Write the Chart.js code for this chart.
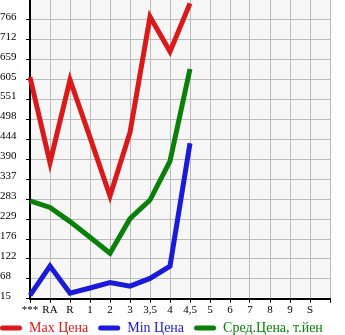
<!DOCTYPE html>
<html>
<head>
<meta charset="utf-8">
<script src="https://cdn.jsdelivr.net/npm/chart.js@4"></script>
<style>
html,body{margin:0;padding:0;background:#fff;}
#wrap{width:345px;height:335px;position:relative;}
</style>
</head>
<body>
<div id="wrap"><canvas id="c" width="345" height="335"></canvas></div>
<script>
const categories = ['***', 'RA', 'R', '1', '2', '3', '3,5', '4', '4,5', '5', '6', '7', '8', '9', 'S'];
const maxPrice = [612, 382, 605, 450, 292, 463, 775, 681, 811];
const minPrice = [24, 103, 30, 44, 59, 49, 70, 103, 434];
const avgPrice = [279, 261, 223, 181, 138, 231, 281, 386, 634];
const yTickLabels = ['15', '68', '122', '176', '229', '283', '337', '390', '444', '498', '551', '605', '659', '712', '766'];
const yMin = 15, yMax = 820;
const seriesNames = ['Max Цена', 'Min Цена', 'Сред.Цена, т.йен'];
const seriesColors = ['#da1a1a', '#1a1ad8', '#0a800a'];

const FONT = '"Liberation Serif", "Times New Roman", serif';
const step = (yMax - yMin) / yTickLabels.length;

const plotBg = {
  id: 'plotBg',
  beforeLayout(chart) {
    const lg = chart.legend;
    if (lg && !lg._patched) {
      const orig = lg.fit;
      lg.fit = function () { orig.call(this); this.height = 17; };
      lg._patched = true;
    }
  },
  beforeDraw(chart) {
    const a = chart.chartArea, ctx = chart.ctx;
    ctx.save();
    ctx.fillStyle = '#f6f6f6';
    ctx.fillRect(a.left, a.top, a.right - a.left, a.bottom - a.top);
    ctx.restore();
    if (chart.legend) { chart.legend.left = -10; chart.legend.top = 311; }
  }
};

new Chart(document.getElementById('c'), {
  type: 'line',
  data: {
    labels: [...categories, ''],
    datasets: [maxPrice, minPrice, avgPrice].map((d, i) => ({
      label: seriesNames[i],
      data: d,
      borderColor: seriesColors[i],
      backgroundColor: seriesColors[i],
      borderWidth: 5,
      pointRadius: 0,
      tension: 0,
      fill: false
    }))
  },
  options: {
    responsive: false,
    animation: false,
    layout: { padding: 0 },
    scales: {
      x: {
        offset: false,
        afterFit(scale) {
          scale.paddingRight = 15;
          scale.paddingLeft = 0;
        },
        grid: { color: '#bbbbbb', lineWidth: 1, tickColor: '#000', tickLength: 4, drawOnChartArea: true },
        border: { color: '#000', width: 2 },
        ticks: { color: '#000', font: { family: FONT, size: 11 }, padding: 1, maxRotation: 0, autoSkip: false }
      },
      y: {
        min: yMin, max: yMax,
        afterBuildTicks(scale) {
          scale.ticks = yTickLabels.map((l, i) => ({ value: yMin + i * step }));
        },
        afterFit(scale) {
          scale.width = 30;
          scale.paddingTop = 0;
          scale.paddingBottom = 0;
        },
        grid: { color: '#bbbbbb', lineWidth: 1, tickColor: '#000', tickLength: 4 },
        border: { color: '#000', width: 2 },
        ticks: {
          color: '#000',
          font: { family: FONT, size: 11 },
          crossAlign: 'far',
          labelOffset: -3,
          callback: (v, i) => yTickLabels[i]
        }
      }
    },
    plugins: {
      tooltip: { enabled: false },
      legend: {
        position: 'bottom',
        align: 'start',
        labels: {
          boxWidth: 22,
          boxHeight: 5,
          padding: 10,
          useBorderRadius: true,
          borderRadius: 2.5,
          font: { family: FONT, size: 14 },
          generateLabels(chart) {
            return Chart.defaults.plugins.legend.labels.generateLabels(chart).map((it, i) => {
              it.fontColor = seriesColors[i];
              it.fillStyle = seriesColors[i];
              it.strokeStyle = seriesColors[i];
              it.lineWidth = 0;
              it.borderRadius = 2.5;
              return it;
            });
          }
        }
      }
    }
  },
  plugins: [plotBg]
});
</script>
</body>
</html>
